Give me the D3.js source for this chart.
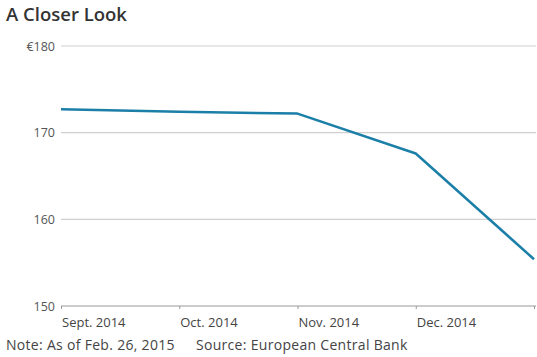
<!DOCTYPE html>
<html>
<head>
<meta charset="utf-8">
<script src="https://cdn.jsdelivr.net/npm/d3@7"></script>
<style>
  html, body { margin: 0; padding: 0; background: #fff; }
  svg { display: block; font-family: "Open Sans", "Noto Sans", sans-serif; }
</style>
</head>
<body>
<svg id="chart" width="537" height="357"></svg>
<script>
// Data
const months = ["2014-09-01", "2014-10-01", "2014-11-01", "2014-12-01", "2015-01-01"];
const values = [172.7, 172.4, 172.2, 167.6, 155.4];
const yTicks = [150, 160, 170, 180];
const xTickLabels = ["Sept. 2014", "Oct. 2014", "Nov. 2014", "Dec. 2014", ""];
const title = "A Closer Look";
const note = "Note: As of Feb. 26, 2015";
const source = "Source: European Central Bank";

const parse = d3.timeParse("%Y-%m-%d");
const data = months.map((m, i) => ({ date: parse(m), value: values[i] }));

const svg = d3.select("#chart");

const y = d3.scaleLinear()
  .domain([150, 180])
  .range([306, 46]);

const xIdx = d3.scaleLinear().domain([0, months.length - 1]).range([61, 534]);

// Title
svg.append("text")
  .attr("x", 6).attr("y", 21)
  .attr("font-size", 18.5).attr("font-weight", 600)
  .attr("fill", "#333")
  .text(title);

// Gridlines
svg.append("g")
  .selectAll("line")
  .data(yTicks.filter(t => t !== 150))
  .join("line")
  .attr("x1", 61).attr("x2", 536)
  .attr("y1", d => y(d)).attr("y2", d => y(d))
  .attr("stroke", "#d0d0d0").attr("stroke-width", 1.2);

// Y axis labels
const yAxis = d3.axisLeft(y)
  .tickValues(yTicks)
  .tickSize(0)
  .tickPadding(6)
  .tickFormat(d => d === 180 ? "€180" : String(d));
const gy = svg.append("g").attr("transform", "translate(61,0)").call(yAxis);
gy.select(".domain").remove();
gy.selectAll("text")
  .attr("font-family", "'Open Sans', 'Noto Sans', sans-serif")
  .attr("font-size", 12.5).attr("fill", "#555");

// X axis
const xAxis = d3.axisBottom(xIdx)
  .tickValues(d3.range(months.length))
  .tickSize(3)
  .tickFormat(() => "");
const gx = svg.append("g").attr("transform", "translate(0,306)").call(xAxis);
gx.select(".domain").remove();
gx.selectAll(".tick line").attr("stroke", "#999");
svg.append("line")
  .attr("x1", 61).attr("x2", 536).attr("y1", 306).attr("y2", 306)
  .attr("stroke", "#999").attr("stroke-width", 1.2);

svg.append("g")
  .selectAll("text")
  .data(xTickLabels)
  .join("text")
  .attr("x", (d, i) => xIdx(i) + 1)
  .attr("y", 327)
  .attr("font-size", 13).attr("fill", "#444")
  .text(d => d);

// Line
const line = d3.line()
  .x((d, i) => xIdx(i))
  .y(d => y(d.value));
svg.append("path")
  .datum(data)
  .attr("d", line)
  .attr("fill", "none")
  .attr("stroke", "#1b7fa8")
  .attr("stroke-width", 2.5)
  .attr("stroke-linejoin", "round");

// Footnote
svg.append("text")
  .attr("x", 6).attr("y", 350)
  .attr("font-size", 14).attr("fill", "#444")
  .attr("letter-spacing", 0.3)
  .text(note);
svg.append("text")
  .attr("x", 196).attr("y", 350)
  .attr("font-size", 14).attr("fill", "#444")
  .attr("letter-spacing", 0.3)
  .text(source);
</script>
</body>
</html>
